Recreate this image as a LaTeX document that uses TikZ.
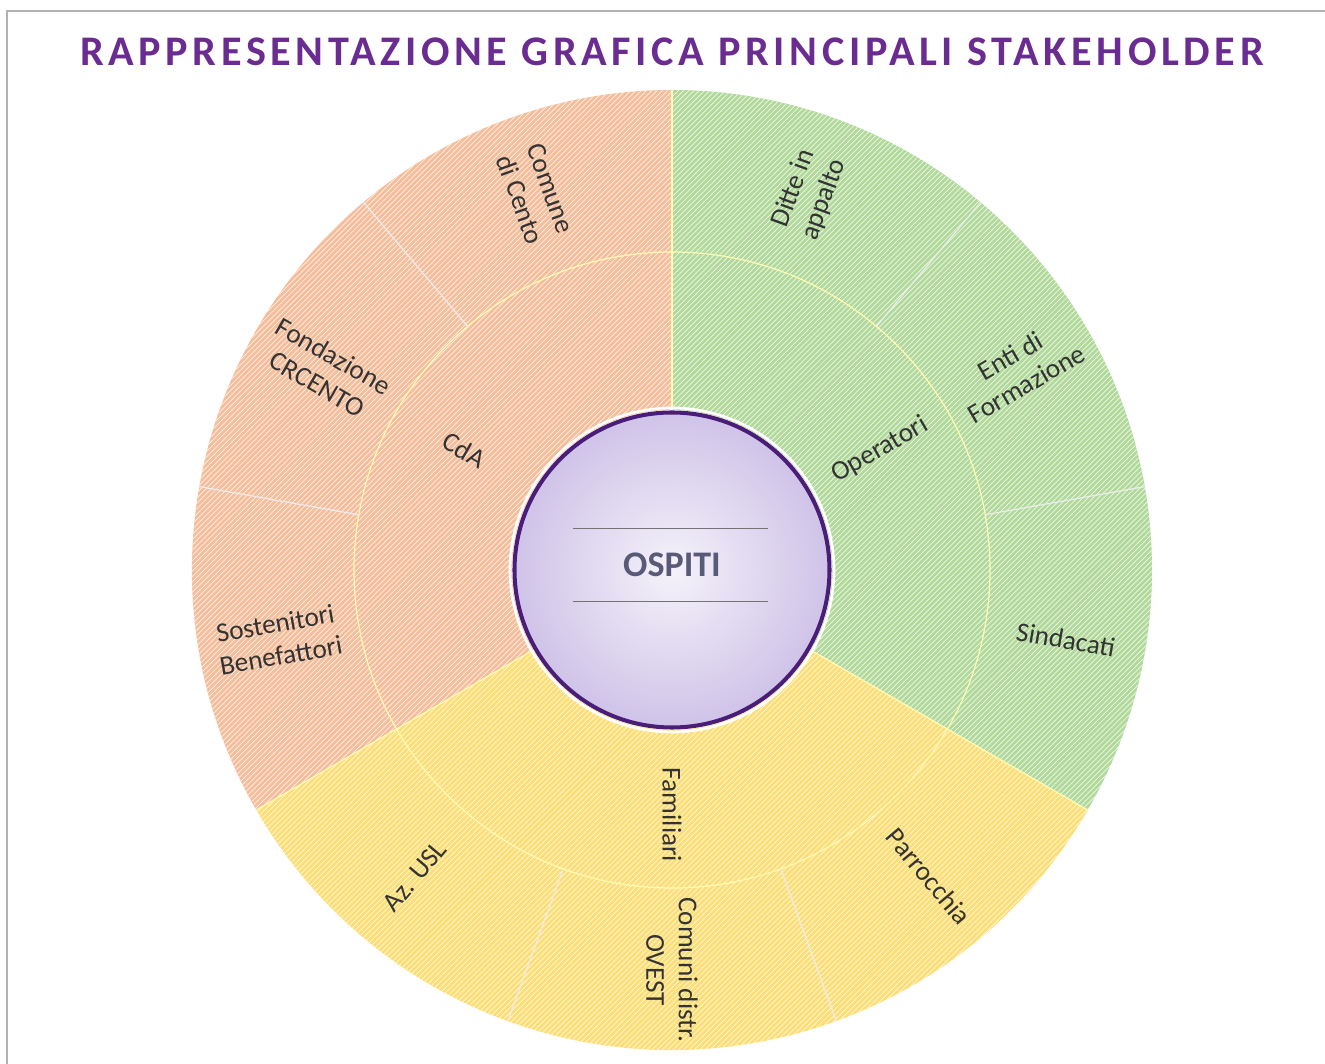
\documentclass[tikz,border=0pt]{standalone}
\usepackage{fontspec}
\setmainfont{Carlito}
\newfontfamily\titlefont[LetterSpace=11]{Carlito}
\usepackage{tikz}
\usetikzlibrary{patterns}
\usetikzlibrary{positioning}
\definecolor{titlepurple}{HTML}{6A2C91}
\definecolor{ringpurple}{HTML}{4A1D78}
\definecolor{orangeA}{HTML}{F5BD9A}
\definecolor{greenA}{HTML}{B0D99A}
\definecolor{yellowA}{HTML}{FDDE74}
\definecolor{labelgray}{HTML}{333333}
\definecolor{ospitigray}{HTML}{595A78}
\definecolor{lavenderA}{HTML}{CFC3E8}
\definecolor{lavenderB}{HTML}{F5F2FA}
\tikzstyle{seclabel}=[text=labelgray,font=\fontsize{15.5}{18.5}\selectfont,align=center,inner sep=1pt]
\tikzstyle{divider}=[draw=white!70!yellow,line width=0.7pt]
% one piece of the ring: colour, start angle, end angle, inner radius, outer radius
\newcommand{\ringpart}[5]{%
  \fill[#1] (#2:#4) arc[start angle=#2,end angle=#3,radius=#4] -- (#3:#5) arc[start angle=#3,end angle=#2,radius=#5] -- cycle;
  \fill[pattern=north east lines,pattern color=white!80!#1] (#2:#4) arc[start angle=#2,end angle=#3,radius=#4] -- (#3:#5) arc[start angle=#3,end angle=#2,radius=#5] -- cycle;
}

\begin{document}
\begin{tikzpicture}[
  outer/.style={seclabel},
  inner/.style={seclabel},
]
\useasboundingbox (-13.44,-9.88) rectangle (13.06,11.4);
\fill[white] (-13.44,-9.88) rectangle (13.06,11.4);
% frame
\draw[black!30,line width=1pt] (-13.3,-9.88) -- (-13.3,11.18) -- (13.06,11.18);

% title
\node[text=titlepurple,font=\titlefont\fontsize{24}{28}\bfseries\selectfont] (title) at (0,10.36) {RAPPRESENTAZIONE GRAFICA PRINCIPALI STAKEHOLDER};

% the three groups
\ringpart{orangeA}{90}{210}{3.2}{9.6}
\ringpart{yellowA}{210}{330}{3.2}{9.6}
\ringpart{greenA}{-30}{90}{3.2}{9.6}

% borders
\draw[divider] (0,0) circle[radius=6.36];
\foreach \a in {90,210,330}
  \draw[divider] (\a:3.2) -- (\a:9.6);
\foreach \a in {10,50,130,170,250,290}
  \draw[divider,draw=white!85!gray] (\a:6.36) -- (\a:9.6);

% inner ring
\node[inner,rotate=-30] (cda) at (150:4.8) {CdA};
\node[inner,rotate=30] (operatori) at (30:4.8) {Operatori};
\node[inner,rotate=-90] (familiari) at (270:4.9) {Familiari};

% outer ring
\node[outer,rotate=-70] (comune) at (110:8.0) {Comune\\di Cento};
\node[outer,rotate=-30] (fondazione) at (150:8.0) {Fondazione\\CRCENTO};
\node[outer,rotate=10] (sostenitori) at (190:8.0) {Sostenitori\\Benefattori};
\node[outer,rotate=70] (ditte) at (70:8.0) {Ditte in\\appalto};
\node[outer,rotate=30] (enti) at (30:8.0) {Enti di\\Formazione};
\node[outer,rotate=-10] (sindacati) at (-10:8.0) {Sindacati};
\node[outer,rotate=50] (azusl) at (230:8.0) {Az. USL};
\node[outer,rotate=-90] (comuni) at (270:8.0) {Comuni distr.\\OVEST};
\node[outer,rotate=-50] (parrocchia) at (310:8.0) {Parrocchia};

% centre
\draw[white,line width=1.5pt] (0,0) circle[radius=3.24];
\node[circle,minimum size=6.3cm,draw=ringpurple,line width=2.3pt,inner color=lavenderB,outer color=lavenderA] (ospiti) at (0,0) {};
\draw[black!55,line width=0.8pt] (-1.98,0.83) -- (1.92,0.83);
\draw[black!55,line width=0.8pt] (-1.98,-0.63) -- (1.92,-0.63);
\node[text=ospitigray,font=\fontsize{20.5}{24}\bfseries\selectfont] at (ospiti.center) [yshift=0.1cm] {OSPITI};
\end{tikzpicture}
\end{document}
